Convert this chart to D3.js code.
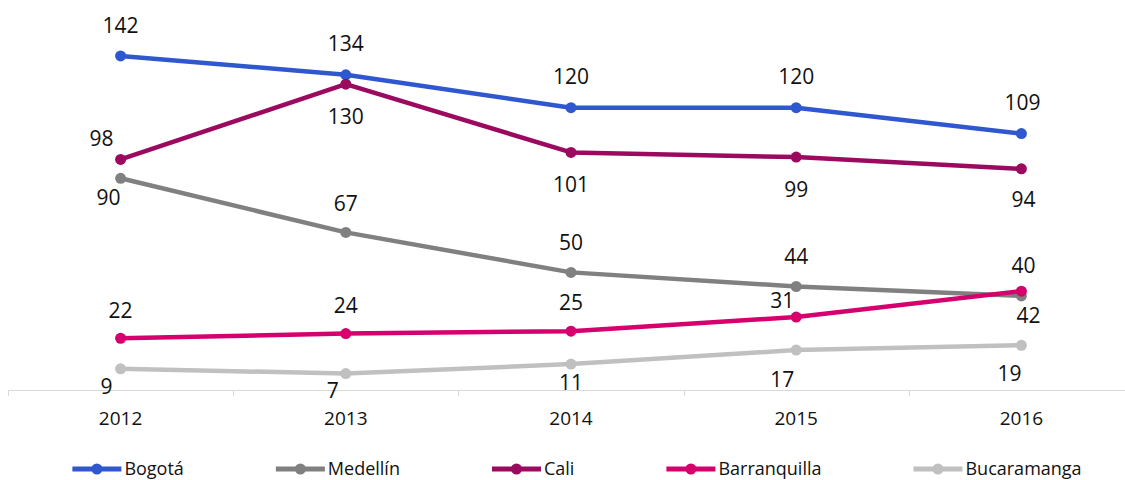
<!DOCTYPE html>
<html>
<head>
<meta charset="utf-8">
<style>
body, html {
	margin: 0;
	background: #fff;
}
text {
	font-family: "Open Sans", sans-serif;
	fill: #111;
}
</style>
</head>
<body>
<div id="chartContainer"></div>
<script src="https://cdn.jsdelivr.net/npm/d3@7"></script>
<script>

const WIDTH = 1125;
const HEIGHT = 480;

// data
const years = ["2012", "2013", "2014", "2015", "2016"];
const cities = ["Bogotá", "Medellín", "Cali", "Barranquilla", "Bucaramanga"];
const bogota = [142, 134, 120, 120, 109];
const medellin = [90, 67, 50, 44, 40];
const cali = [98, 130, 101, 99, 94];
const barranquilla = [22, 24, 25, 31, 42];
const bucaramanga = [9, 7, 11, 17, 19];

const colors = ["#2f57cf", "#808080", "#9b0a5f", "#d5006e", "#c0c0c0"];

// label placement per point (offset of the label centre from the point)
const LABEL_OFFSETS = [
	[[0, -31], [0, -31], [0, -31], [0, -31], [1, -31]],
	[[-12, 19], [0, -29], [0, -30], [0, -30], [2, -30]],
	[[-19, -21], [0, 32], [0, 32], [0, 32], [2, 31]],
	[[0, -28], [0, -28], [0, -29], [-14, -17], [7, 24]],
	[[-14, 18], [-13, 17], [0, 18], [-14, 29], [-12, 28]]
];

const LINE_WIDTH = 4.5;
const DOT_RADIUS = 5.5;
const AXIS_Y = 390;

const series = [bogota, medellin, cali, barranquilla, bucaramanga].map((values, i) => ({
	name: cities[i],
	color: colors[i],
	points: values.map((v, j) => ({ year: years[j], value: v, offset: LABEL_OFFSETS[i][j] }))
}));

var svg = d3.select("#chartContainer").append("svg")
	.attr("width", WIDTH)
	.attr("height", HEIGHT);

var x = d3.scaleBand()
	.domain(years)
	.range([8, 1134]);

var y = d3.scaleLinear()
	.domain([0, 160])
	.range([AXIS_Y, 13.6]);

const cx = (d) => x(d.year) + x.bandwidth() / 2;

// x axis
var axis = svg.append("g").attr("class", "axis");
axis.append("line")
	.attr("x1", 8).attr("x2", WIDTH)
	.attr("y1", AXIS_Y + 0.5).attr("y2", AXIS_Y + 0.5)
	.attr("stroke", "#d9d9d9").attr("stroke-width", 1);
axis.selectAll(".tick")
	.data(years)
	.enter().append("line")
		.attr("class", "tick")
		.attr("x1", (d) => Math.round(x(d)) + 0.5)
		.attr("x2", (d) => Math.round(x(d)) + 0.5)
		.attr("y1", AXIS_Y)
		.attr("y2", AXIS_Y + 6)
		.attr("stroke", "#d9d9d9");
axis.selectAll(".year")
	.data(years)
	.enter().append("text")
		.attr("class", "year")
		.attr("x", (d) => x(d) + x.bandwidth() / 2)
		.attr("y", 418)
		.attr("dy", "0.36em")
		.attr("text-anchor", "middle")
		.attr("font-size", "19px")
		.text((d) => d);

// lines
var line = d3.line()
	.x(cx)
	.y((d) => y(d.value));

var groups = svg.selectAll(".series")
	.data(series)
	.enter().append("g")
		.attr("class", "series");

groups.append("path")
	.attr("d", (d) => line(d.points))
	.attr("fill", "none")
	.attr("stroke", (d) => d.color)
	.attr("stroke-width", LINE_WIDTH)
	.attr("stroke-linejoin", "round")
	.attr("stroke-linecap", "round");

groups.each(function(s) {
	d3.select(this).selectAll("circle")
		.data(s.points)
		.enter().append("circle")
			.attr("cx", cx)
			.attr("cy", (d) => y(d.value))
			.attr("r", DOT_RADIUS)
			.attr("fill", s.color);
});

// data labels
groups.each(function(s) {
	d3.select(this).selectAll(".label")
		.data(s.points)
		.enter().append("text")
			.attr("class", "label")
			.attr("x", (d) => cx(d) + d.offset[0])
			.attr("y", (d) => y(d.value) + d.offset[1])
			.attr("dy", "0.36em")
			.attr("text-anchor", "middle")
			.attr("font-size", "21px")
			.text((d) => d.value);
});

// legend, centred like the original
const LEGEND_Y = 469;
const LEGEND_LINE = 49;
const LEGEND_TEXT_GAP = 3;
const LEGEND_GAP = 92;

var legend = svg.append("g").attr("class", "legend");
var items = legend.selectAll(".item")
	.data(series)
	.enter().append("g")
		.attr("class", "item");

items.append("line")
	.attr("x1", 0).attr("x2", LEGEND_LINE)
	.attr("y1", 0).attr("y2", 0)
	.attr("stroke", (d) => d.color)
	.attr("stroke-width", 5);
items.append("circle")
	.attr("cx", LEGEND_LINE / 2)
	.attr("cy", 0)
	.attr("r", 5.5)
	.attr("fill", (d) => d.color);
items.append("text")
	.attr("x", LEGEND_LINE + LEGEND_TEXT_GAP)
	.attr("y", 0)
	.attr("dy", "0.36em")
	.attr("font-size", "18px")
	.text((d) => d.name);

var widths = [];
items.each(function() { widths.push(this.getBBox().width); });
var total = d3.sum(widths) + LEGEND_GAP * (widths.length - 1);
var pos = 577 - total / 2;
items.attr("transform", (d, i) => {
	const t = `translate(${pos},${LEGEND_Y})`;
	pos += widths[i] + LEGEND_GAP;
	return t;
});

</script>
</body>
</html>
